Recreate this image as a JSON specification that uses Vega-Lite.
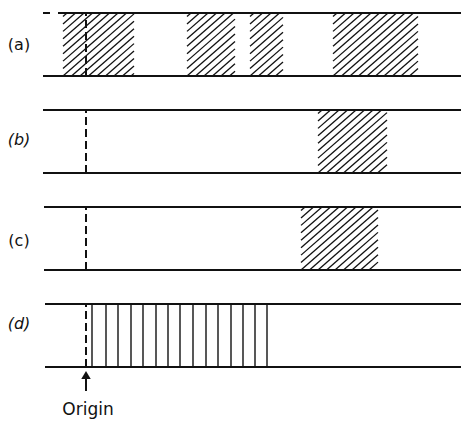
{
  "$schema": "https://vega.github.io/schema/vega-lite/v6.json",
  "autosize": "none",
  "padding": 0,
  "width": 461,
  "height": 421,
  "background": "white",
  "data": {"values": [
    {"s":"a","k":"e","x":58,"x2":461,"y":354,"y2":354},
    {"s":"a","k":"e","x":43,"x2":50,"y":354,"y2":354},
    {"s":"a","k":"e","x":43,"x2":461,"y":291,"y2":291},
    {"s":"b","k":"e","x":43,"x2":461,"y":257,"y2":257},
    {"s":"b","k":"e","x":43,"x2":461,"y":194,"y2":194},
    {"s":"c","k":"e","x":44,"x2":461,"y":160,"y2":160},
    {"s":"c","k":"e","x":44,"x2":461,"y":97,"y2":97},
    {"s":"d","k":"e","x":45,"x2":461,"y":63,"y2":63},
    {"s":"d","k":"e","x":45,"x2":461,"y":0,"y2":0},
    {"s":"a","k":"o","x":86,"x2":86,"y":291,"y2":354},
    {"s":"b","k":"o","x":86,"x2":86,"y":194,"y2":257},
    {"s":"c","k":"o","x":86,"x2":86,"y":97,"y2":160},
    {"s":"d","k":"o","x":86,"x2":86,"y":0,"y2":63},
    {"s":"a","k":"l","x":19,"y":322.5,"text":"(a)"},
    {"s":"b","k":"l","x":19,"y":226.8,"text":"(b)"},
    {"s":"c","k":"l","x":19,"y":126,"text":"(c)"},
    {"s":"d","k":"l","x":19,"y":43.5,"text":"(d)"},
    {"s":"d","k":"t","x":92,"x2":92,"y":0,"y2":63},
    {"s":"d","k":"t","x":106,"x2":106,"y":0,"y2":63},
    {"s":"d","k":"t","x":118,"x2":118,"y":0,"y2":63},
    {"s":"d","k":"t","x":131,"x2":131,"y":0,"y2":63},
    {"s":"d","k":"t","x":143,"x2":143,"y":0,"y2":63},
    {"s":"d","k":"t","x":156,"x2":156,"y":0,"y2":63},
    {"s":"d","k":"t","x":168,"x2":168,"y":0,"y2":63},
    {"s":"d","k":"t","x":180,"x2":180,"y":0,"y2":63},
    {"s":"d","k":"t","x":193,"x2":193,"y":0,"y2":63},
    {"s":"d","k":"t","x":206,"x2":206,"y":0,"y2":63},
    {"s":"d","k":"t","x":218,"x2":218,"y":0,"y2":63},
    {"s":"d","k":"t","x":231,"x2":231,"y":0,"y2":63},
    {"s":"d","k":"t","x":243,"x2":243,"y":0,"y2":63},
    {"s":"d","k":"t","x":255,"x2":255,"y":0,"y2":63},
    {"s":"d","k":"t","x":267,"x2":267,"y":0,"y2":63},
    {"s":"d","k":"a","x":86,"x2":86,"y":-8,"y2":-24},
    {"s":"d","k":"ah","x":86,"y":-8},
    {"s":"d","k":"n","x":88,"y":-48,"text":"Origin"},

    {"s":"a","k":"h","x":63,"y":350.5,"x2":67,"y2":354},
    {"s":"a","k":"h","x":63,"y":343.06,"x2":75.5,"y2":354},
    {"s":"a","k":"h","x":63,"y":335.63,"x2":84,"y2":354},
    {"s":"a","k":"h","x":63,"y":328.19,"x2":92.5,"y2":354},
    {"s":"a","k":"h","x":63,"y":320.75,"x2":101,"y2":354},
    {"s":"a","k":"h","x":63,"y":313.31,"x2":109.5,"y2":354},
    {"s":"a","k":"h","x":63,"y":305.88,"x2":118,"y2":354},
    {"s":"a","k":"h","x":63,"y":298.44,"x2":126.5,"y2":354},
    {"s":"a","k":"h","x":63,"y":291,"x2":134,"y2":353.13},
    {"s":"a","k":"h","x":71.5,"y":291,"x2":134,"y2":345.69},
    {"s":"a","k":"h","x":80,"y":291,"x2":134,"y2":338.25},
    {"s":"a","k":"h","x":88.5,"y":291,"x2":134,"y2":330.81},
    {"s":"a","k":"h","x":97,"y":291,"x2":134,"y2":323.38},
    {"s":"a","k":"h","x":105.5,"y":291,"x2":134,"y2":315.94},
    {"s":"a","k":"h","x":114,"y":291,"x2":134,"y2":308.5},
    {"s":"a","k":"h","x":122.5,"y":291,"x2":134,"y2":301.06},
    {"s":"a","k":"h","x":131,"y":291,"x2":134,"y2":293.63},

    {"s":"a","k":"h","x":187,"y":350.5,"x2":191,"y2":354},
    {"s":"a","k":"h","x":187,"y":343.06,"x2":199.5,"y2":354},
    {"s":"a","k":"h","x":187,"y":335.63,"x2":208,"y2":354},
    {"s":"a","k":"h","x":187,"y":328.19,"x2":216.5,"y2":354},
    {"s":"a","k":"h","x":187,"y":320.75,"x2":225,"y2":354},
    {"s":"a","k":"h","x":187,"y":313.31,"x2":233.5,"y2":354},
    {"s":"a","k":"h","x":187,"y":305.88,"x2":235,"y2":347.88},
    {"s":"a","k":"h","x":187,"y":298.44,"x2":235,"y2":340.44},
    {"s":"a","k":"h","x":187,"y":291,"x2":235,"y2":333},
    {"s":"a","k":"h","x":195.5,"y":291,"x2":235,"y2":325.56},
    {"s":"a","k":"h","x":204,"y":291,"x2":235,"y2":318.13},
    {"s":"a","k":"h","x":212.5,"y":291,"x2":235,"y2":310.69},
    {"s":"a","k":"h","x":221,"y":291,"x2":235,"y2":303.25},
    {"s":"a","k":"h","x":229.5,"y":291,"x2":235,"y2":295.81},

    {"s":"a","k":"h","x":250,"y":350.5,"x2":254,"y2":354},
    {"s":"a","k":"h","x":250,"y":343.06,"x2":262.5,"y2":354},
    {"s":"a","k":"h","x":250,"y":335.63,"x2":271,"y2":354},
    {"s":"a","k":"h","x":250,"y":328.19,"x2":279.5,"y2":354},
    {"s":"a","k":"h","x":250,"y":320.75,"x2":283,"y2":349.63},
    {"s":"a","k":"h","x":250,"y":313.31,"x2":283,"y2":342.19},
    {"s":"a","k":"h","x":250,"y":305.88,"x2":283,"y2":334.75},
    {"s":"a","k":"h","x":250,"y":298.44,"x2":283,"y2":327.31},
    {"s":"a","k":"h","x":250,"y":291,"x2":283,"y2":319.88},
    {"s":"a","k":"h","x":258.5,"y":291,"x2":283,"y2":312.44},
    {"s":"a","k":"h","x":267,"y":291,"x2":283,"y2":305},
    {"s":"a","k":"h","x":275.5,"y":291,"x2":283,"y2":297.56},

    {"s":"a","k":"h","x":333,"y":350.5,"x2":337,"y2":354},
    {"s":"a","k":"h","x":333,"y":343.06,"x2":345.5,"y2":354},
    {"s":"a","k":"h","x":333,"y":335.63,"x2":354,"y2":354},
    {"s":"a","k":"h","x":333,"y":328.19,"x2":362.5,"y2":354},
    {"s":"a","k":"h","x":333,"y":320.75,"x2":371,"y2":354},
    {"s":"a","k":"h","x":333,"y":313.31,"x2":379.5,"y2":354},
    {"s":"a","k":"h","x":333,"y":305.88,"x2":388,"y2":354},
    {"s":"a","k":"h","x":333,"y":298.44,"x2":396.5,"y2":354},
    {"s":"a","k":"h","x":333,"y":291,"x2":405,"y2":354},
    {"s":"a","k":"h","x":341.5,"y":291,"x2":413.5,"y2":354},
    {"s":"a","k":"h","x":350,"y":291,"x2":418,"y2":350.5},
    {"s":"a","k":"h","x":358.5,"y":291,"x2":418,"y2":343.06},
    {"s":"a","k":"h","x":367,"y":291,"x2":418,"y2":335.63},
    {"s":"a","k":"h","x":375.5,"y":291,"x2":418,"y2":328.19},
    {"s":"a","k":"h","x":384,"y":291,"x2":418,"y2":320.75},
    {"s":"a","k":"h","x":392.5,"y":291,"x2":418,"y2":313.31},
    {"s":"a","k":"h","x":401,"y":291,"x2":418,"y2":305.88},
    {"s":"a","k":"h","x":409.5,"y":291,"x2":418,"y2":298.44},

    {"s":"b","k":"h","x":318,"y":253.5,"x2":322,"y2":257},
    {"s":"b","k":"h","x":318,"y":246.06,"x2":330.5,"y2":257},
    {"s":"b","k":"h","x":318,"y":238.63,"x2":339,"y2":257},
    {"s":"b","k":"h","x":318,"y":231.19,"x2":347.5,"y2":257},
    {"s":"b","k":"h","x":318,"y":223.75,"x2":356,"y2":257},
    {"s":"b","k":"h","x":318,"y":216.31,"x2":364.5,"y2":257},
    {"s":"b","k":"h","x":318,"y":208.88,"x2":373,"y2":257},
    {"s":"b","k":"h","x":318,"y":201.44,"x2":381.5,"y2":257},
    {"s":"b","k":"h","x":318,"y":194,"x2":387,"y2":254.38},
    {"s":"b","k":"h","x":326.5,"y":194,"x2":387,"y2":246.94},
    {"s":"b","k":"h","x":335,"y":194,"x2":387,"y2":239.5},
    {"s":"b","k":"h","x":343.5,"y":194,"x2":387,"y2":232.06},
    {"s":"b","k":"h","x":352,"y":194,"x2":387,"y2":224.63},
    {"s":"b","k":"h","x":360.5,"y":194,"x2":387,"y2":217.19},
    {"s":"b","k":"h","x":369,"y":194,"x2":387,"y2":209.75},
    {"s":"b","k":"h","x":377.5,"y":194,"x2":387,"y2":202.31},

    {"s":"c","k":"h","x":301,"y":156.5,"x2":305,"y2":160},
    {"s":"c","k":"h","x":301,"y":149.06,"x2":313.5,"y2":160},
    {"s":"c","k":"h","x":301,"y":141.63,"x2":322,"y2":160},
    {"s":"c","k":"h","x":301,"y":134.19,"x2":330.5,"y2":160},
    {"s":"c","k":"h","x":301,"y":126.75,"x2":339,"y2":160},
    {"s":"c","k":"h","x":301,"y":119.31,"x2":347.5,"y2":160},
    {"s":"c","k":"h","x":301,"y":111.88,"x2":356,"y2":160},
    {"s":"c","k":"h","x":301,"y":104.44,"x2":364.5,"y2":160},
    {"s":"c","k":"h","x":301,"y":97,"x2":373,"y2":160},
    {"s":"c","k":"h","x":309.5,"y":97,"x2":378,"y2":156.94},
    {"s":"c","k":"h","x":318,"y":97,"x2":378,"y2":149.5},
    {"s":"c","k":"h","x":326.5,"y":97,"x2":378,"y2":142.06},
    {"s":"c","k":"h","x":335,"y":97,"x2":378,"y2":134.63},
    {"s":"c","k":"h","x":343.5,"y":97,"x2":378,"y2":127.19},
    {"s":"c","k":"h","x":352,"y":97,"x2":378,"y2":119.75},
    {"s":"c","k":"h","x":360.5,"y":97,"x2":378,"y2":112.31},
    {"s":"c","k":"h","x":369,"y":97,"x2":378,"y2":104.88}
  ]},
  "encoding": {
    "x": {"field": "x", "type": "quantitative", "scale": {"domain": [0, 461], "nice": false, "zero": false}, "axis": null},
    "y": {"field": "y", "type": "quantitative", "scale": {"domain": [-54, 367], "nice": false, "zero": false}, "axis": null}
  },
  "layer": [
    {
      "transform": [{"filter": "datum.k == 'h'"}],
      "mark": {"type": "rule", "strokeWidth": 1.3, "color": "#111"},
      "encoding": {"x2": {"field": "x2"}, "y2": {"field": "y2"}}
    },
    {
      "transform": [{"filter": "datum.k == 't'"}],
      "mark": {"type": "rule", "strokeWidth": 1.4, "color": "#111"},
      "encoding": {"x2": {"field": "x2"}, "y2": {"field": "y2"}}
    },
    {
      "transform": [{"filter": "datum.k == 'o'"}],
      "mark": {"type": "rule", "strokeWidth": 2, "strokeDash": [8, 4], "color": "#111"},
      "encoding": {"x2": {"field": "x2"}, "y2": {"field": "y2"}}
    },
    {
      "transform": [{"filter": "datum.k == 'e' || datum.k == 'a'"}],
      "mark": {"type": "rule", "strokeWidth": 2, "color": "#111"},
      "encoding": {"x2": {"field": "x2"}, "y2": {"field": "y2"}}
    },
    {
      "transform": [{"filter": "datum.k == 'ah'"}],
      "mark": {"type": "point", "shape": "triangle-up", "filled": true, "size": 90, "color": "#111", "opacity": 1},
      "encoding": {}
    },
    {
      "transform": [{"filter": "datum.k == 'l' && (datum.s == 'a' || datum.s == 'c')"}],
      "mark": {"type": "text", "font": "DejaVu Sans", "fontSize": 16, "align": "center", "baseline": "middle", "color": "#111"},
      "encoding": {"text": {"field": "text"}}
    },
    {
      "transform": [{"filter": "datum.k == 'l' && (datum.s == 'b' || datum.s == 'd')"}],
      "mark": {"type": "text", "font": "DejaVu Sans", "fontSize": 16, "fontStyle": "italic", "align": "center", "baseline": "middle", "color": "#111"},
      "encoding": {"text": {"field": "text"}}
    },
    {
      "transform": [{"filter": "datum.k == 'n'"}],
      "mark": {"type": "text", "font": "DejaVu Sans", "fontSize": 17, "align": "center", "baseline": "alphabetic", "color": "#111"},
      "encoding": {"text": {"field": "text"}}
    }
  ],
  "config": {"view": {"stroke": null}}
}
